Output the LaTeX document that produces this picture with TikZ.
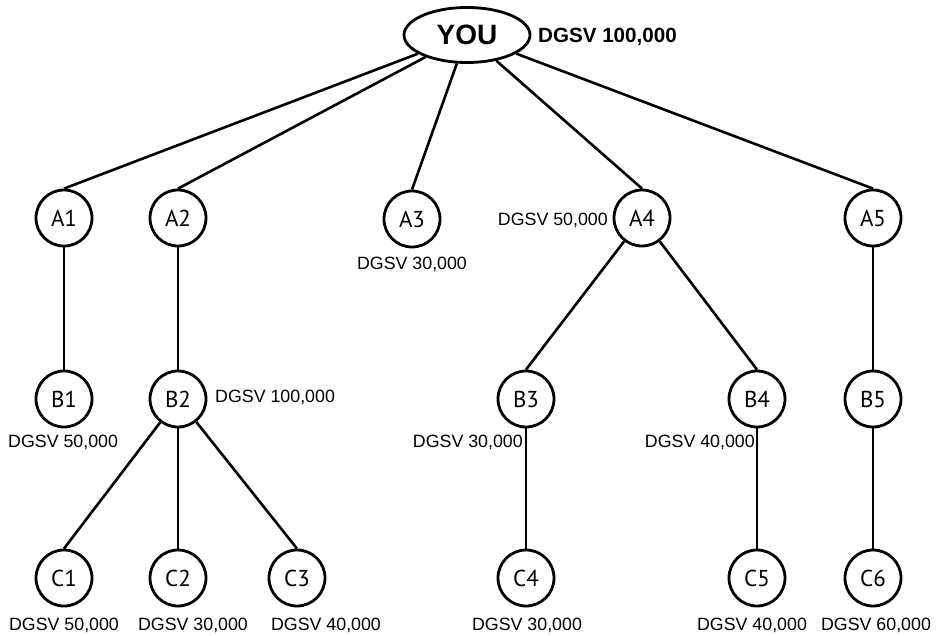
\documentclass[tikz,border=0pt]{standalone}
\usepackage{fontspec}
\setmainfont{Liberation Sans}
\newfontfamily\nodefont{PT Sans}
\usetikzlibrary{shapes.geometric}
\tikzset{
  circ/.style={circle, draw, line width=2.8pt, minimum size=56pt, inner sep=0pt,
    font=\nodefont\fontsize{23}{25}\selectfont},
  youell/.style={ellipse, draw, line width=2.8pt, minimum width=126pt, minimum height=55pt, inner sep=0pt,
    font=\bfseries\fontsize{28}{30}\selectfont},
  lbl/.style={inner sep=0pt, font=\fontsize{17.8}{20}\selectfont},
  blbl/.style={inner sep=0pt, font=\bfseries\fontsize{20.6}{22}\selectfont},
  edge/.style={line width=2.6pt}
}
\begin{document}
\begin{tikzpicture}[x=1pt,y=-1pt]
\useasboundingbox (0,0) rectangle (942,636);
% nodes
\node[youell] (you) at (467,35) {YOU};
\node[circ] (a1) at (64,218) {A1};
\node[circ] (a2) at (178,218) {A2};
\node[circ] (a3) at (412,219) {A3};
\node[circ] (a4) at (642,218) {A4};
\node[circ] (a5) at (873,218) {A5};
\node[circ] (b1) at (64,399) {B1};
\node[circ] (b2) at (178,399) {B2};
\node[circ] (b3) at (526,399) {B3};
\node[circ] (b4) at (757,399) {B4};
\node[circ] (b5) at (873,399) {B5};
\node[circ] (c1) at (64,578) {C1};
\node[circ] (c2) at (178,578) {C2};
\node[circ] (c3) at (297,578) {C3};
\node[circ] (c4) at (526,578) {C4};
\node[circ] (c5) at (757,578) {C5};
\node[circ] (c6) at (873,578) {C6};
% edges
\draw[edge] (you) -- (a1.north);
\draw[edge] (you) -- (a2.north);
\draw[edge] (you) -- (a3.north);
\draw[edge] (you) -- (a4.north);
\draw[edge] (you) -- (a5.north);
\draw[edge] (a1) -- (b1);
\draw[edge] (a2) -- (b2);
\draw[edge] (a4) -- (b3.north);
\draw[edge] (a4) -- (b4.north);
\draw[edge] (a5) -- (b5);
\draw[edge] (b2) -- (c1.north);
\draw[edge] (b2) -- (c2);
\draw[edge] (b2) -- (c3.north);
\draw[edge] (b3) -- (c4);
\draw[edge] (b4) -- (c5);
\draw[edge] (b5) -- (c6);
% labels
\node[blbl, anchor=base west] (lyou) at (538,43) {DGSV 100,000};
\node[lbl, anchor=base] (la3) at (412,270) {DGSV 30,000};
\node[lbl, anchor=base east] (la4) at (608,226) {DGSV 50,000};
\node[lbl, anchor=base west] (lb2) at (215,402) {DGSV 100,000};
\node[lbl, anchor=base west] (lb1) at (8,447) {DGSV 50,000};
\node[lbl, anchor=base east] (lb3) at (523,447) {DGSV 30,000};
\node[lbl, anchor=base east] (lb4) at (755,447) {DGSV 40,000};
\node[lbl, anchor=base] (lc1) at (64,630) {DGSV 50,000};
\node[lbl, anchor=base] (lc2) at (193,630) {DGSV 30,000};
\node[lbl, anchor=base] (lc3) at (326,630) {DGSV 40,000};
\node[lbl, anchor=base] (lc4) at (527,630) {DGSV 30,000};
\node[lbl, anchor=base] (lc5) at (752,630) {DGSV 40,000};
\node[lbl, anchor=base] (lc6) at (876,630) {DGSV 60,000};
\end{tikzpicture}
\end{document}
